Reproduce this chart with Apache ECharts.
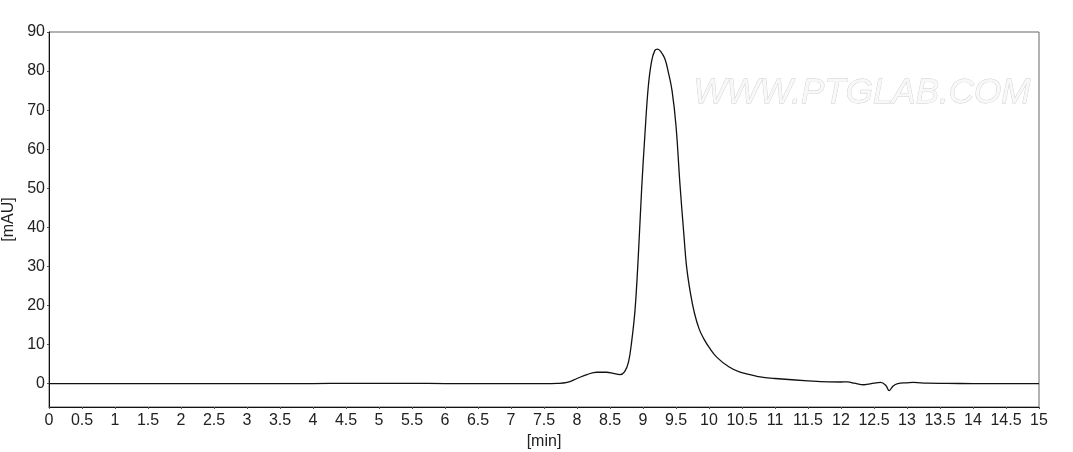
<!DOCTYPE html>
<html>
<head>
<meta charset="utf-8">
<script src="https://cdn.jsdelivr.net/npm/echarts@6/dist/echarts.min.js"></script>
<style>
html,body{margin:0;padding:0;background:#fff;}
#chart{width:1073px;height:452px;}
</style>
</head>
<body>
<div id="chart"></div>
<script>
// Retention time (min)
var timeMin = [0, 0.5, 1, 1.5, 2, 2.5, 3, 3.5, 4, 4.5, 5, 5.5, 6, 6.5, 7, 7.5, 7.7, 7.85, 8.0, 8.15, 8.3, 8.45, 8.55, 8.65, 8.72, 8.78, 8.83, 8.88, 8.93, 8.98, 9.03, 9.08, 9.13, 9.18, 9.22, 9.27, 9.33, 9.38, 9.44, 9.5, 9.56, 9.62, 9.66, 9.72, 9.78, 9.85, 9.92, 10.0, 10.12, 10.3, 10.47, 10.75, 11.0, 11.5, 12.0, 12.1, 12.2, 12.35, 12.5, 12.6, 12.68, 12.73, 12.79, 12.86, 13.0, 13.1, 13.3, 13.6, 14.0, 14.5, 15.0];
// Absorbance (mAU)
var absorbance = [0, 0, 0, 0, 0, 0, 0, 0, 0, 0.05, 0.05, 0.05, 0, 0, 0, 0, 0.05, 0.3, 1.3, 2.3, 2.9, 2.9, 2.6, 2.3, 3.0, 5.5, 11, 19, 33, 50, 64, 76, 82.5, 85.3, 85.6, 85, 83.2, 80, 75, 66, 51, 38, 30, 23, 18, 14, 11.5, 9.3, 6.7, 4.3, 2.9, 1.8, 1.3, 0.7, 0.4, 0.45, 0.1, -0.3, 0.1, 0.3, -0.5, -1.8, -0.6, 0.0, 0.2, 0.3, 0.1, 0.05, 0, 0, 0];
var yTicks = [0, 10, 20, 30, 40, 50, 60, 70, 80, 90];
var watermarkText = 'WWW.PTGLAB.COM';

var points = timeMin.map(function (t, i) { return [t, absorbance[i]]; });

var chart = echarts.init(document.getElementById('chart'));
var font = 'Liberation Sans, Arial, sans-serif';
chart.setOption({
  animation: false,
  grid: { left: 49, right: 34, top: 32, bottom: 45, show: true, borderColor: '#666', borderWidth: 1,
    containLabel: false, outerBoundsMode: 'none' },
  xAxis: {
    type: 'value', min: 0, max: 15, interval: 0.5,
    name: '[min]', nameLocation: 'middle', nameGap: 25,
    nameTextStyle: { fontFamily: font, fontSize: 16, color: '#222' },
    axisLine: { onZero: false, lineStyle: { color: '#111', width: 1 } },
    axisTick: { show: true, inside: false, length: 2, lineStyle: { color: '#555' } },
    axisLabel: { fontFamily: font, fontSize: 16, color: '#222', margin: 6,
      formatter: function (v) { return String(v); } },
    splitLine: { show: false }
  },
  yAxis: {
    type: 'value', min: -6, max: 90,
    name: '[mAU]', nameLocation: 'middle', nameGap: 29, nameRotate: 90,
    nameTextStyle: { fontFamily: font, fontSize: 16, color: '#222' },
    axisLine: { show: true, lineStyle: { color: '#111', width: 1 } },
    axisTick: { show: true, inside: false, length: 2, customValues: yTicks, lineStyle: { color: '#555' } },
    axisLabel: { fontFamily: font, fontSize: 16, color: '#222', margin: 4, customValues: yTicks },
    splitLine: { show: false }
  },
  graphic: [{
    type: 'text', left: 693, top: 75, z: 0, silent: true,
    style: {
      text: watermarkText,
      font: 'italic 35px Liberation Sans, Arial, sans-serif',
      fill: '#f8f8f8', stroke: '#cdcdcd', lineWidth: 0.8
    }
  }],
  series: [{
    type: 'line', data: points, showSymbol: false, smooth: 0.4,
    lineStyle: { color: '#111', width: 1.3 }, z: 5
  }]
});
</script>
</body>
</html>
